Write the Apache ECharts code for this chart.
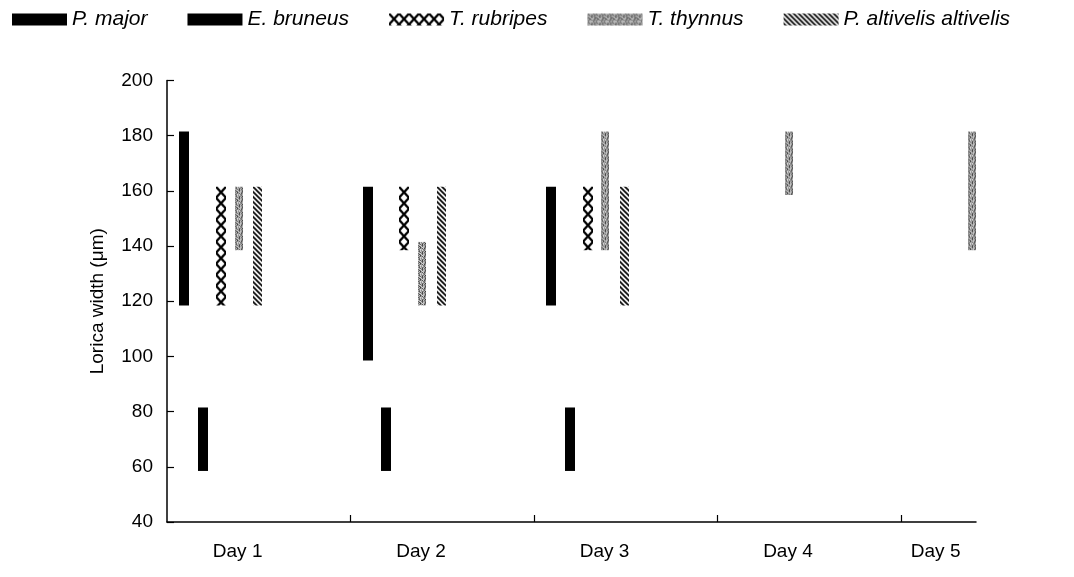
<!DOCTYPE html>
<html>
<head>
<meta charset="utf-8">
<script src="https://cdn.jsdelivr.net/npm/echarts@6/dist/echarts.min.js"></script>
<style>
  html, body { margin: 0; padding: 0; background: #fff; }
  #chart { width: 1074px; height: 577px; }
</style>
</head>
<body>
<div id="chart"></div>
<script>
// Sampling days and species
const days = ['Day 1', 'Day 2', 'Day 3', 'Day 4', 'Day 5'];
const species = ['P. major', 'E. bruneus', 'T. rubripes', 'T. thynnus', 'P. altivelis altivelis'];

// Lorica width range (µm) per day: low / high, null = not recorded
const pMajorLow      = [118.5,  98.5, 118.5,  null,  null];
const pMajorHigh     = [181.5, 161.5, 161.5,  null,  null];
const eBruneusLow    = [ 58.5,  58.5,  58.5,  null,  null];
const eBruneusHigh   = [ 81.5,  81.5,  81.5,  null,  null];
const tRubripesLow   = [118.5, 138.5, 138.5,  null,  null];
const tRubripesHigh  = [161.5, 161.5, 161.5,  null,  null];
const tThynnusLow    = [138.5, 118.5, 138.5, 158.5, 138.5];
const tThynnusHigh   = [161.5, 141.5, 181.5, 181.5, 181.5];
const pAltivelisLow  = [118.5, 118.5, 118.5,  null,  null];
const pAltivelisHigh = [161.5, 161.5, 161.5,  null,  null];

// Layout: position of each species inside a day slot, and bar widths (px)
const slotOffset = [0.095, 0.195, 0.294, 0.39, 0.495];
const barWidth = [10, 10, 10, 8, 9];
const dayTickPos = [1, 2, 3, 4];
const dayLabelPos = [0.385, 1.385, 2.385, 3.385, 4.19];

const FONT = '"Liberation Sans", Arial, Helvetica, sans-serif';

// ---- fill textures ----
function makeTile(w, h, draw) {
  const c = document.createElement('canvas');
  c.width = w; c.height = h;
  const ctx = c.getContext('2d');
  ctx.fillStyle = '#fff';
  ctx.fillRect(0, 0, w, h);
  draw(ctx, w, h);
  return c;
}

const crossTile = makeTile(10, 11, (ctx, w, h) => {
  ctx.strokeStyle = '#000';
  ctx.lineWidth = 2.2;
  ctx.beginPath();
  ctx.moveTo(0, 0); ctx.lineTo(w, h);
  ctx.moveTo(w, 0); ctx.lineTo(0, h);
  ctx.stroke();
});

const grain = [
  '5a3816c2',
  '8d26a94f',
  '27c5e3b8',
  'b419d67a',
  '6e82c35d',
  'a3f7148b',
  '49b6d2e7',
  'c8153a96'
];
const stippleTile = makeTile(8, 8, (ctx) => {
  grain.forEach((row, y) => {
    for (let x = 0; x < row.length; x++) {
      const g = 235 - parseInt(row[x], 16) * 12;
      ctx.fillStyle = `rgb(${g},${g},${g})`;
      ctx.fillRect(x, y, 1, 1);
    }
  });
});

const diagTile = makeTile(5, 5, (ctx, w, h) => {
  ctx.strokeStyle = '#000';
  ctx.lineWidth = 1.7;
  ctx.beginPath();
  ctx.moveTo(-1, -1); ctx.lineTo(w + 1, h + 1);
  ctx.moveTo(-1, h - 1); ctx.lineTo(1, h + 1);
  ctx.moveTo(w - 1, -1); ctx.lineTo(w + 1, 1);
  ctx.stroke();
});

const tiles = [null, null, crossTile, stippleTile, diagTile];

function fillFor(k, x, y) {
  if (!tiles[k]) return '#000';
  return { image: tiles[k], repeat: 'repeat', x: x || 0, y: y || 0 };
}

function rangeSeries(k, lows, highs) {
  const data = [];
  days.forEach((d, i) => {
    if (lows[i] != null) data.push([i, lows[i], highs[i]]);
  });
  return {
    type: 'custom',
    name: species[k],
    itemStyle: { color: fillFor(k) },
    encode: { x: 0, y: [1, 2] },
    data: data,
    renderItem: (params, api) => {
      const xv = api.value(0) + slotOffset[k];
      const top = api.coord([xv, api.value(2)]);
      const bot = api.coord([xv, api.value(1)]);
      const w = barWidth[k];
      const rx = Math.round(top[0] - w / 2);
      const ry = top[1];
      return {
        type: 'rect',
        shape: { x: rx, y: ry, width: w, height: bot[1] - top[1] },
        style: { fill: fillFor(k, rx, ry) }
      };
    }
  };
}

function nearestDay(v) {
  let best = 0;
  dayLabelPos.forEach((p, i) => {
    if (Math.abs(p - v) < Math.abs(dayLabelPos[best] - v)) best = i;
  });
  return days[best];
}

const chart = echarts.init(document.getElementById('chart'), null, { renderer: 'canvas' });

chart.setOption({
  animation: false,
  backgroundColor: '#fff',
  textStyle: { fontFamily: FONT },
  legend: {
    data: species,
    left: 12,
    top: 9,
    padding: 0,
    icon: 'rect',
    itemWidth: 55,
    itemHeight: 12,
    itemGap: 40,
    textStyle: { fontFamily: FONT, fontStyle: 'italic', fontSize: 21, color: '#000' }
  },
  grid: { left: 167, right: 98, top: 80.5, bottom: 55, outerBoundsMode: 'none' },
  xAxis: {
    type: 'value',
    min: 0,
    max: 4.41,
    splitLine: { show: false },
    axisLine: { lineStyle: { color: '#000', width: 1.5 } },
    axisTick: { inside: true, length: 7, customValues: dayTickPos, lineStyle: { color: '#000', width: 1.2 } },
    axisLabel: {
      customValues: dayLabelPos,
      formatter: nearestDay,
      margin: 20,
      fontSize: 19,
      color: '#000',
      fontFamily: FONT
    }
  },
  yAxis: {
    type: 'value',
    min: 40,
    max: 200,
    interval: 20,
    name: 'Lorica width (μm)',
    nameLocation: 'middle',
    nameGap: 60,
    nameTextStyle: { fontSize: 19, color: '#000', fontFamily: FONT },
    splitLine: { show: false },
    axisLine: { show: true, lineStyle: { color: '#000', width: 1.5 } },
    axisTick: { show: true, inside: true, length: 7, lineStyle: { color: '#000', width: 1.2 } },
    axisLabel: { margin: 14, fontSize: 19, color: '#000', fontFamily: FONT }
  },
  series: [
    rangeSeries(0, pMajorLow, pMajorHigh),
    rangeSeries(1, eBruneusLow, eBruneusHigh),
    rangeSeries(2, tRubripesLow, tRubripesHigh),
    rangeSeries(3, tThynnusLow, tThynnusHigh),
    rangeSeries(4, pAltivelisLow, pAltivelisHigh)
  ]
});
</script>
</body>
</html>
